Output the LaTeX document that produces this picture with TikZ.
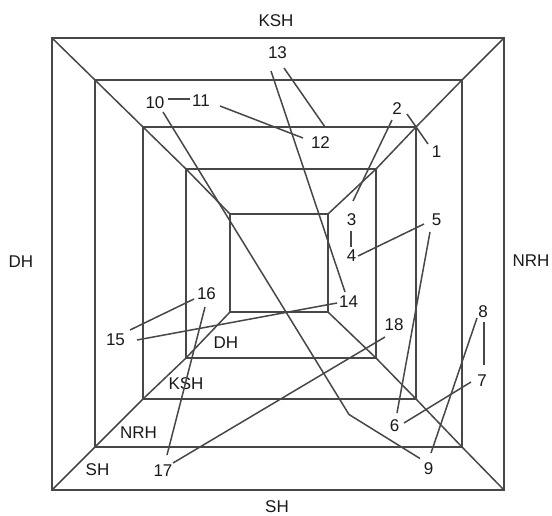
\documentclass[tikz,border=0pt]{standalone}
\usepackage{fontspec}
\setmainfont{Liberation Sans}
\begin{document}
\begin{tikzpicture}[x=1pt,y=-1pt,
  frame/.style={draw=black!72, line width=1.5pt, line join=miter},
  conn/.style={draw=black!72, line width=1.5pt},
  lbl/.style={font=\fontsize{17}{17}\selectfont, text=black!90, inner sep=0pt}]
\useasboundingbox (0,0) rectangle (552,515);
% square corners
\coordinate (A1) at (52,38);   \coordinate (B1) at (504,38);
\coordinate (C1) at (504,490); \coordinate (D1) at (52,490);
\coordinate (A2) at (95,80);   \coordinate (B2) at (462,80);
\coordinate (C2) at (462,447); \coordinate (D2) at (95,447);
\coordinate (A3) at (143,127); \coordinate (B3) at (416,127);
\coordinate (C3) at (416,399); \coordinate (D3) at (143,399);
\coordinate (A4) at (186,169); \coordinate (B4) at (376,169);
\coordinate (C4) at (376,358); \coordinate (D4) at (186,358);
\coordinate (A5) at (230,214); \coordinate (B5) at (328,214);
\coordinate (C5) at (328,312); \coordinate (D5) at (230,312);
\foreach \i in {1,...,5}{\draw[frame] (A\i) -- (B\i) -- (C\i) -- (D\i) -- cycle;}
\draw[frame] (A1) -- (A2) -- (A3) -- (A4) -- (A5);
\draw[frame] (B1) -- (B2) -- (B3) -- (B4) -- (B5);
\draw[frame] (C1) -- (C2) -- (C3) -- (C4) -- (C5);
\draw[frame] (D1) -- (D2) -- (D3) -- (D4) -- (D5);
% side labels
\node[lbl] (tKSH) at (276,20.5) {KSH};
\node[lbl] (bSH)  at (277,506.5) {SH};
\node[lbl] (rNRH) at (531,260.5) {NRH};
\node[lbl] (lDH)  at (21,262) {DH};
\node[lbl] (iDH)  at (226,342.5) {DH};
\node[lbl] (iKSH) at (186,383.5) {KSH};
\node[lbl] (iNRH) at (138.5,432.5) {NRH};
\node[lbl] (iSH)  at (97.5,469.5) {SH};
% numbers
\node[lbl] (n1)  at (436.5,152) {1};
\node[lbl] (n2)  at (397,108.5) {2};
\node[lbl] (n3)  at (351.5,220) {3};
\node[lbl] (n4)  at (351.5,256) {4};
\node[lbl] (n5)  at (436.5,220) {5};
\node[lbl] (n6)  at (394.5,426) {6};
\node[lbl] (n7)  at (482,381) {7};
\node[lbl] (n8)  at (483,312) {8};
\node[lbl] (n9)  at (428.5,468.5) {9};
\node[lbl] (n10) at (155,103) {10};
\node[lbl] (n11) at (201,101) {11};
\node[lbl] (n12) at (320.5,143) {12};
\node[lbl] (n13) at (277.5,53) {13};
\node[lbl] (n14) at (348.5,302) {14};
\node[lbl] (n15) at (115.5,339.5) {15};
\node[lbl] (n16) at (206.5,293.5) {16};
\node[lbl] (n17) at (163,471) {17};
\node[lbl] (n18) at (394,324.5) {18};
% connector ends
\coordinate (e2a) at (407,114);   \coordinate (e1a) at (428,144);
\coordinate (e2b) at (392,120);   \coordinate (e3a) at (353,201);
\coordinate (e3b) at (351,231);   \coordinate (e4a) at (351,247);
\coordinate (e5a) at (424,224);   \coordinate (e4b) at (358,256);
\coordinate (e5b) at (430,232);   \coordinate (e6a) at (397,413);
\coordinate (e7a) at (471,382);   \coordinate (e6b) at (404,423);
\coordinate (e8a) at (484,322);   \coordinate (e7b) at (484,365);
\coordinate (e8b) at (477,318);   \coordinate (e9a) at (431,453);
\coordinate (e10a) at (163,112);  \coordinate (bend) at (349,414.5); \coordinate (e9b) at (420,458.5);
\coordinate (e10b) at (168,99);   \coordinate (e11a) at (190,99);
\coordinate (e11b) at (220,106);  \coordinate (e12a) at (303,138);
\coordinate (e13a) at (284,68);   \coordinate (q3) at (325,127);
\coordinate (e13b) at (271,71);   \coordinate (e14a) at (345,292);
\coordinate (e14b) at (337,303);  \coordinate (e15a) at (137,340);
\coordinate (e16a) at (194,299);  \coordinate (e15b) at (130,330);
\coordinate (e16b) at (205,307);  \coordinate (e17a) at (167,455);
\coordinate (e18a) at (385,337);  \coordinate (e17b) at (173,463);
% connectors
\draw[conn] (e2a) -- (e1a);
\draw[conn] (e2b) -- (e3a);
\draw[conn] (e3b) -- (e4a);
\draw[conn] (e5a) -- (e4b);
\draw[conn] (e5b) -- (e6a);
\draw[conn] (e7a) -- (e6b);
\draw[conn] (e8a) -- (e7b);
\draw[conn] (e8b) -- (e9a);
\draw[conn] (e10a) -- (bend) -- (e9b);
\draw[conn] (e10b) -- (e11a);
\draw[conn] (e11b) -- (e12a);
\draw[conn] (e13a) -- (q3);
\draw[conn] (e13b) -- (e14a);
\draw[conn] (e14b) -- (e15a);
\draw[conn] (e16a) -- (e15b);
\draw[conn] (e16b) -- (e17a);
\draw[conn] (e18a) -- (e17b);
\end{tikzpicture}
\end{document}
